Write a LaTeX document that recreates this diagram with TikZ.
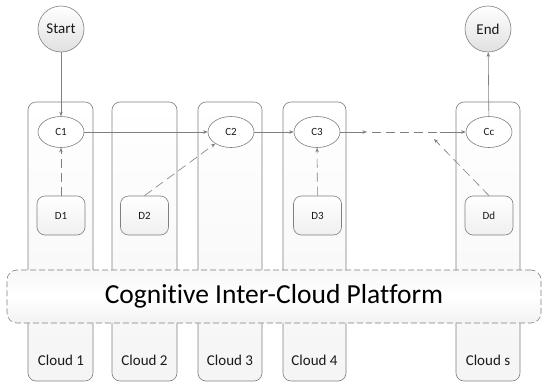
\documentclass[tikz,border=0pt]{standalone}
\usepackage{fontspec}
\setmainfont{Carlito}[Ligatures=NoCommon]
\usetikzlibrary{arrows.meta,shapes.geometric}
\definecolor{ln}{HTML}{7F7F7F}
\definecolor{txt}{HTML}{1A1A1A}
\tikzset{
  col/.style={draw=ln, line width=0.6pt, rounded corners=8pt, top color=white, bottom color=black!4},
  cir/.style={circle, draw=ln, line width=0.6pt, minimum size=46pt, inner sep=0pt, top color=white, bottom color=black!12, font=\fontsize{15}{15}\selectfont, text=txt},
  ell/.style={ellipse, draw=ln, line width=0.6pt, minimum width=46pt, minimum height=31pt, inner sep=0pt, fill=white, font=\fontsize{11}{11}\selectfont, text=txt},
  dbox/.style={draw=ln, line width=0.6pt, rounded corners=8pt, minimum width=48pt, minimum height=39pt, inner sep=0pt, top color=white, bottom color=black!6, font=\fontsize{11}{11}\selectfont, text=txt},
  plat/.style={draw=ln, line width=0.6pt, dash pattern=on 6pt off 3pt, rounded corners=10pt, minimum width=534pt, minimum height=53pt, inner sep=0pt, top color=black!3, bottom color=black!5, middle color=white, font=\fontsize{27.5}{27.5}\selectfont, text=black},
  clab/.style={font=\fontsize{15}{15}\selectfont, text=txt},
  arr/.style={draw=ln, line width=0.6pt, -{Stealth[length=4.5pt,width=3.5pt]}},
  darr/.style={arr, dash pattern=on 9pt off 5pt},
}
\begin{document}
\begin{tikzpicture}[x=1pt,y=-1pt]
\useasboundingbox (0,0) rectangle (544,383);
% columns
\foreach \n/\xa/\xb in {c1/28/93, c2/112/177, c3/198/262, c4/283/346, cs/456/520}{
  \draw[col] (\xa,102) rectangle (\xb,381);
}
% start/end
\node[cir] (start) at (61,29) {Start};
\node[cir] (end) at (488,29) {End};
% ellipses
\node[ell] (C1) at (61,132) {C1};
\node[ell] (C2) at (231,132) {C2};
\node[ell] (C3) at (317,132) {C3};
\node[ell] (Cc) at (489,132) {Cc};
% D boxes
\node[dbox] (D1) at (61,215.5) {D1};
\node[dbox] (D2) at (144.5,215.5) {D2};
\node[dbox] (D3) at (317.5,215.5) {D3};
\node[dbox] (Dd) at (489,215.5) {Dd};
% platform
\node[plat] (plat) at (274,296.5) {Cognitive Inter-Cloud Platform};
% cloud labels
\node[clab] (l1) at (61,360) {Cloud 1};
\node[clab] (l2) at (144.5,360) {Cloud 2};
\node[clab] (l3) at (230,360) {Cloud 3};
\node[clab] (l4) at (314.5,360) {Cloud 4};
\node[clab] (ls) at (488,360) {Cloud s};
% coordinates
\coordinate (m1) at (367,132);
\coordinate (m2) at (372,132);
\coordinate (m3) at (440,132);
\coordinate (m4) at (434,139);
% connectors
\draw[arr] (start) -- (C1);
\draw[arr] (C1) -- (C2);
\draw[arr] (C2) -- (C3);
\draw[arr] (C3) -- (m1);
\draw[draw=ln, line width=0.6pt, dash pattern=on 9pt off 5pt] (m2) -- (m3);
\draw[arr] (m3) -- (Cc);
\draw[arr] (Cc) -- (end);
\draw[darr] (D1) -- (C1);
\draw[darr] (D2.north) -- (C2);
\draw[darr] (D3) -- (C3);
\draw[darr] (Dd.north) -- (m4);
\end{tikzpicture}
\end{document}
